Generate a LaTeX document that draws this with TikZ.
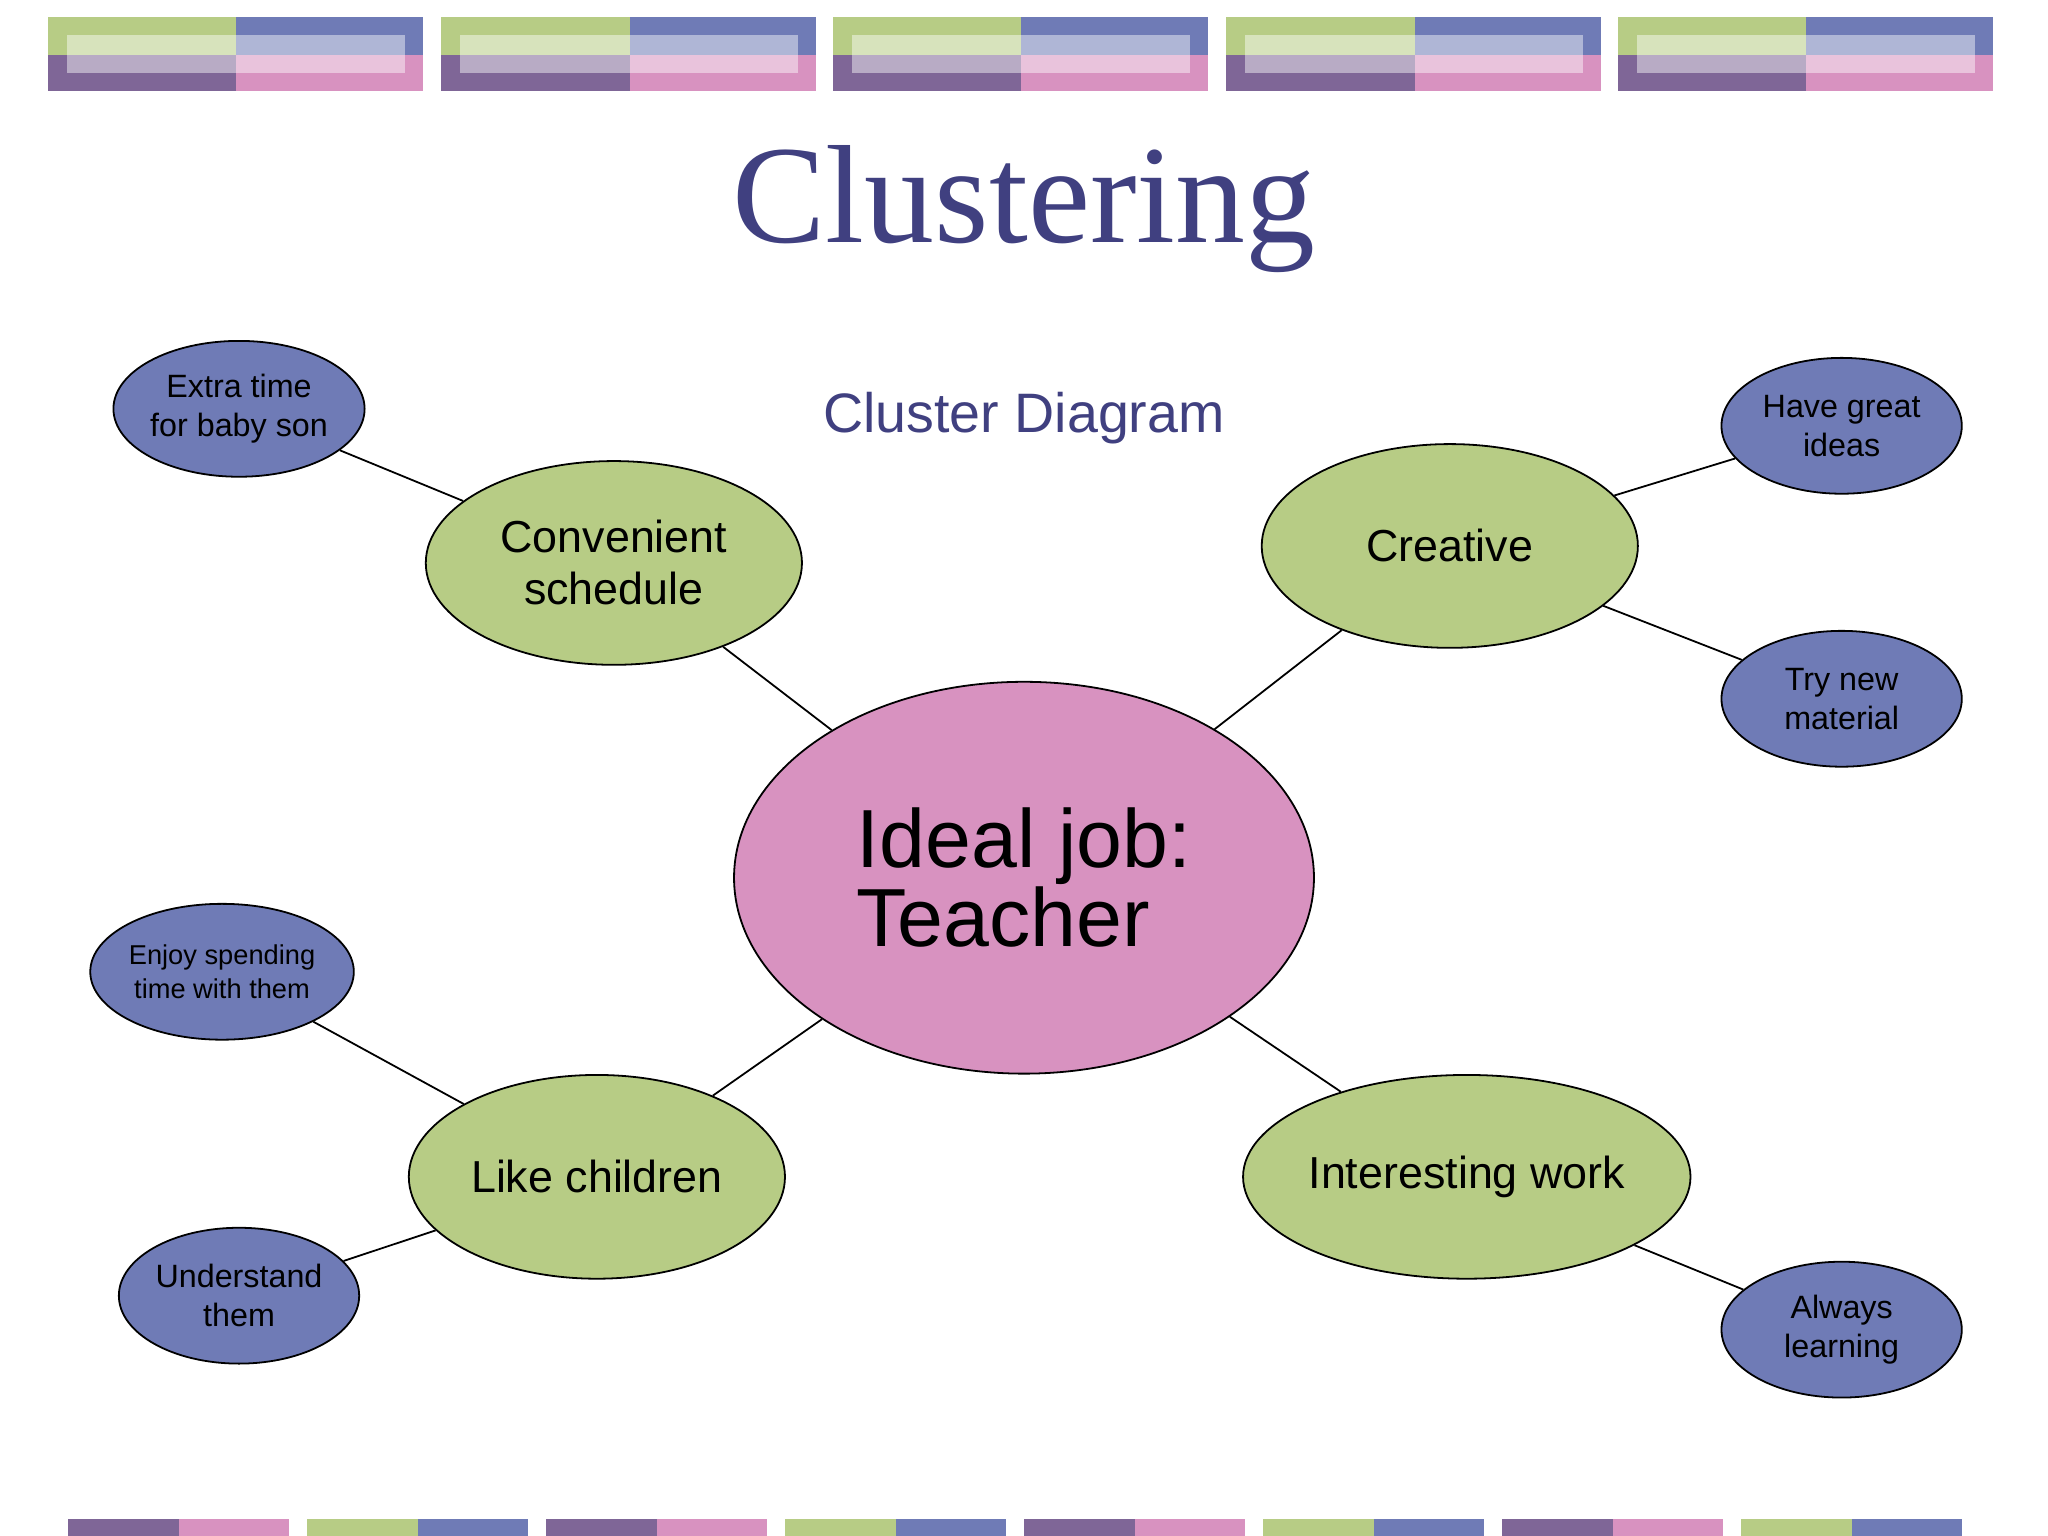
\documentclass[tikz,border=0pt]{standalone}
\usepackage{fontspec}
\setmainfont{Liberation Serif}
\setsansfont{Liberation Sans}
\usetikzlibrary{shapes.geometric}
\definecolor{cgreen}{HTML}{B7CC85}
\definecolor{cblue}{HTML}{6F7BB6}
\definecolor{cpurple}{HTML}{7F6697}
\definecolor{cpink}{HTML}{D892C0}
\definecolor{ctitle}{HTML}{404080}
\tikzset{
  ell/.style={ellipse, draw=black, line width=0.5pt, inner sep=0pt, align=center, font=\sffamily},
  mid/.style={ell, fill=cgreen, minimum width=288\unitlen, minimum height=156\unitlen, font=\sffamily\fontsize{12.5}{14.5}\selectfont},
  leaf/.style={ell, fill=cblue, minimum width=184\unitlen, minimum height=104\unitlen, font=\sffamily\fontsize{9}{11}\selectfont},
  link/.style={line width=0.5pt}
}
\newlength{\unitlen}\setlength{\unitlen}{0.0128cm}
\begin{document}
\begin{tikzpicture}[x=0.0128cm,y=-0.0128cm]
\useasboundingbox (0,0) rectangle (1568,1176);
% top banner
\foreach \x in {37,338,638,939,1239}{
  \fill[cgreen] (\x,13) rectangle ++(144,29);
  \fill[cblue] (\x+144,13) rectangle ++(143,29);
  \fill[cpurple] (\x,42) rectangle ++(144,28);
  \fill[cpink] (\x+144,42) rectangle ++(143,28);
  \fill[white,opacity=0.45] (\x+14,27) rectangle ++(259,29);
}
% bottom strip
\foreach \x [count=\i] in {52,235,418,601,784,967,1150,1333}{
  \ifodd\i
    \fill[cpurple] (\x,1163) rectangle ++(85,13);
    \fill[cpink] (\x+85,1163) rectangle ++(84,13);
  \else
    \fill[cgreen] (\x,1163) rectangle ++(85,13);
    \fill[cblue] (\x+85,1163) rectangle ++(84,13);
  \fi
}
\node[text=ctitle, font=\fontsize{39}{44}\selectfont] (title) at (784,160) {Clustering};
\node[text=ctitle, font=\sffamily\fontsize{15.5}{18}\selectfont] (sub) at (784,320) {Cluster Diagram};

\node[ell, fill=cpink, minimum width=444\unitlen, minimum height=300\unitlen, align=left, font=\sffamily\fontsize{23}{22}\selectfont] (c) at (784,672) {Ideal job:\\Teacher};
\node[mid] (cs) at (470,431) {Convenient\\schedule};
\node[mid] (cr) at (1110,418) {Creative};
\node[mid] (lc) at (457,901) {Like children};
\node[mid] (iw) at (1123,901) {Interesting work};

\node[leaf] (et) at (183,313) {Extra time\\for baby son};
\node[leaf] (hg) at (1410,326) {Have great\\ideas};
\node[leaf] (tn) at (1410,535) {Try new\\material};
\node[leaf, font=\sffamily\fontsize{7.6}{9.5}\selectfont] (es) at (170,744) {Enjoy spending\\time with them};
\node[leaf] (ut) at (183,992) {Understand\\them};
\node[leaf] (al) at (1410,1018) {Always\\learning};

\draw[link] (c) -- (cs);
\draw[link] (c) -- (cr);
\draw[link] (c) -- (lc);
\draw[link] (c) -- (iw);
\draw[link] (cs) -- (et);
\draw[link] (cr) -- (hg);
\draw[link] (cr) -- (tn);
\draw[link] (lc) -- (es);
\draw[link] (lc) -- (ut);
\draw[link] (iw) -- (al);
\end{tikzpicture}
\end{document}
